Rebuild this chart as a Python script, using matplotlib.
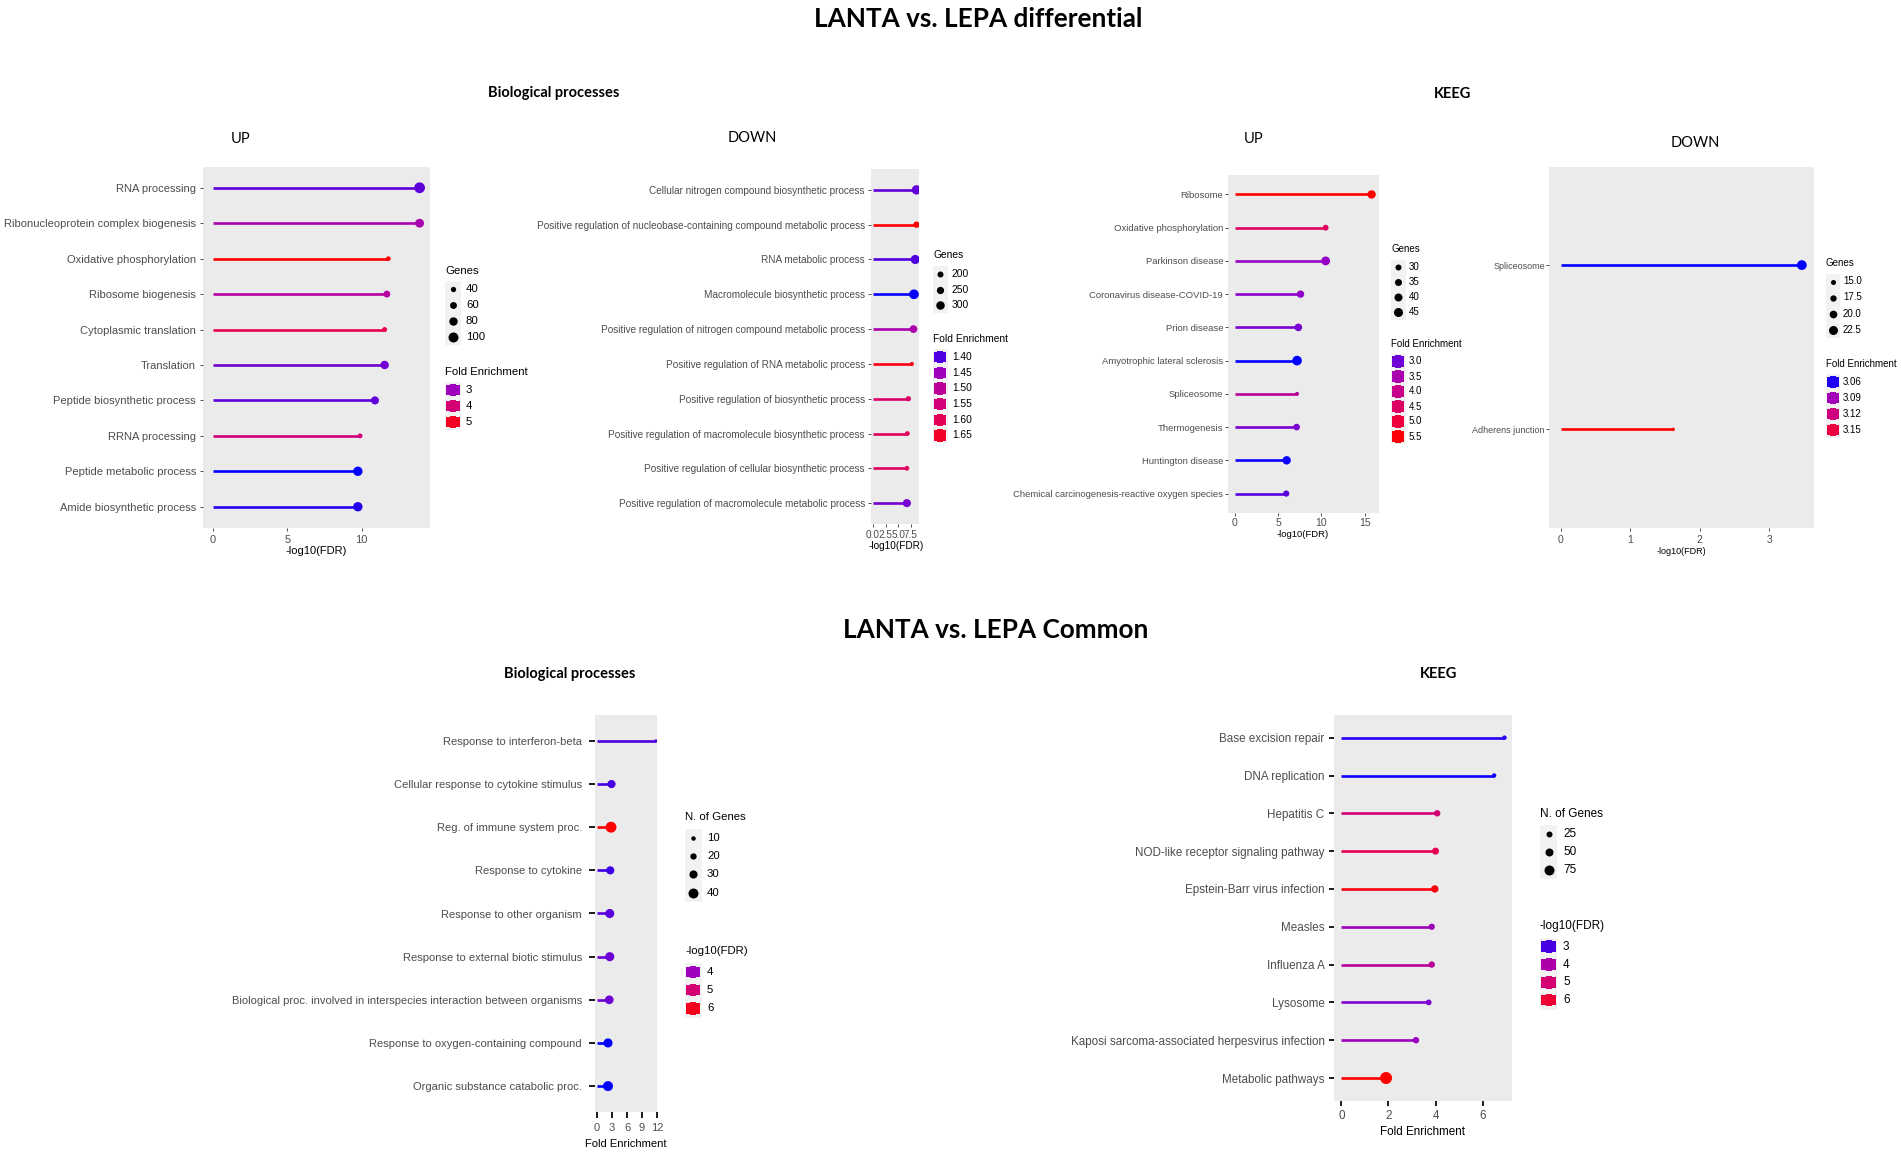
import matplotlib
matplotlib.use("Agg")
import matplotlib.pyplot as plt
import numpy as np
from matplotlib.colors import LinearSegmentedColormap, Normalize
from matplotlib.patches import Rectangle

W, H = 1901, 1156

# BP differential UP
bp_up_terms = ["RNA processing", "Ribonucleoprotein complex biogenesis", "Oxidative phosphorylation",
               "Ribosome biogenesis", "Cytoplasmic translation", "Translation", "Peptide biosynthetic process",
               "RRNA processing", "Peptide metabolic process", "Amide biosynthetic process"]
bp_up_fdr = [13.9, 13.9, 11.8, 11.7, 11.55, 11.55, 10.9, 9.9, 9.75, 9.75]
bp_up_fold = [2.6, 3.2, 5.35, 3.4, 4.6, 2.7, 2.6, 3.9, 2.1, 2.3]
bp_up_genes = [110, 85, 32, 60, 36, 80, 75, 34, 92, 92]
bp_up_size_leg = [40, 60, 80, 100]
bp_up_col_leg = [3, 4, 5]

# BP differential DOWN
bp_down_terms = ["Cellular nitrogen compound biosynthetic process",
                 "Positive regulation of nucleobase-containing compound metabolic process",
                 "RNA metabolic process", "Macromolecule biosynthetic process",
                 "Positive regulation of nitrogen compound metabolic process",
                 "Positive regulation of RNA metabolic process", "Positive regulation of biosynthetic process",
                 "Positive regulation of macromolecule biosynthetic process",
                 "Positive regulation of cellular biosynthetic process",
                 "Positive regulation of macromolecule metabolic process"]
bp_down_fdr = [8.6, 8.6, 8.35, 8.1, 8.0, 7.7, 7.0, 6.8, 6.7, 6.7]
bp_down_fold = [1.41, 1.69, 1.40, 1.36, 1.47, 1.67, 1.575, 1.59, 1.585, 1.42]
bp_down_genes = [335, 215, 325, 350, 270, 120, 170, 150, 150, 285]
bp_down_size_leg = [200, 250, 300]
bp_down_col_leg = ["1.40", "1.45", "1.50", "1.55", "1.60", "1.65"]

# KEGG differential UP
kegg_up_terms = ["Ribosome", "Oxidative phosphorylation", "Parkinson disease", "Coronavirus disease-COVID-19",
                 "Prion disease", "Amyotrophic lateral sclerosis", "Spliceosome", "Thermogenesis",
                 "Huntington disease", "Chemical carcinogenesis-reactive oxygen species"]
kegg_up_fdr = [15.8, 10.5, 10.5, 7.6, 7.35, 7.2, 7.2, 7.15, 6.0, 5.95]
kegg_up_fold = [5.6, 4.58, 3.2, 3.15, 3.06, 2.43, 3.76, 3.06, 2.5, 2.9]
kegg_up_genes = [42, 29, 44, 37, 38, 48, 20, 33, 42, 31]
kegg_up_size_leg = [30, 35, 40, 45]
kegg_up_col_leg = ["3.0", "3.5", "4.0", "4.5", "5.0", "5.5"]

# KEGG differential DOWN
kegg_down_terms = ["Spliceosome", "Adherens junction"]
kegg_down_fdr = [3.47, 1.62]
kegg_down_fold = [3.054, 3.174]
kegg_down_genes = [24, 12]
kegg_down_size_leg = ["15.0", "17.5", "20.0", "22.5"]
kegg_down_col_leg = ["3.06", "3.09", "3.12", "3.15"]

# BP common
common_bp_terms = ["Response to interferon-beta", "Cellular response to cytokine stimulus",
                   "Reg. of immune system proc.", "Response to cytokine", "Response to other organism",
                   "Response to external biotic stimulus",
                   "Biological proc. involved in interspecies interaction between organisms",
                   "Response to oxygen-containing compound", "Organic substance catabolic proc."]
common_bp_fold = [11.8, 2.9, 2.8, 2.65, 2.55, 2.55, 2.45, 2.2, 2.2]
common_bp_fdr = [3.55, 3.5, 6.3, 3.46, 3.6, 3.7, 3.7, 3.15, 3.14]
common_bp_genes = [3, 30, 45, 30, 35, 35, 33, 35, 40]
common_bp_size_leg = [10, 20, 30, 40]
common_bp_col_leg = [4, 5, 6]

# KEGG common
common_kegg_terms = ["Base excision repair", "DNA replication", "Hepatitis C", "NOD-like receptor signaling pathway",
                     "Epstein-Barr virus infection", "Measles", "Influenza A", "Lysosome",
                     "Kaposi sarcoma-associated herpesvirus infection", "Metabolic pathways"]
common_kegg_fold = [6.93, 6.49, 4.07, 4.0, 3.97, 3.84, 3.84, 3.71, 3.17, 1.9]
common_kegg_fdr = [2.75, 2.6, 4.95, 5.55, 6.5, 3.67, 4.26, 3.38, 3.6, 6.7]
common_kegg_genes = [5, 5, 30, 38, 42, 28, 30, 22, 30, 100]
common_kegg_size_leg = [25, 50, 75]
common_kegg_col_leg = [3, 4, 5, 6]

# ggplot blue-red gradient goes through Lab, these are the stops
cmap = LinearSegmentedColormap.from_list("bluered", [(0, (0, 0, 1)), (.25, (154/255, 0, 195/255)),
                                                     (.5, (201/255, 0, 136/255)), (.75, (232/255, 0, 80/255)),
                                                     (1, (1, 0, 0))])

plt.rcParams["font.family"] = ["Liberation Sans", "DejaVu Sans"]
fig = plt.figure(figsize=(W/100, H/100), dpi=100)
over = fig.add_axes([0, 0, 1, 1], zorder=5)
over.set_xlim(0, W)
over.set_ylim(H, 0)
over.axis("off")


def px(d):
    return d*0.72


def dot_size(v, sr):
    d = sr[2] + (float(v) - sr[0])*(sr[3] - sr[2])/(sr[1] - sr[0])
    return px(d)**2


def legend(x, lab_x, y_t1, rows1, y_t2, rows2, title1, title2, sizes, cols, sr, norm, fs, kw):
    over.text(x, y_t1, title1, fontsize=fs, va="center", color="black")
    step = rows1[1] - rows1[0]
    over.add_patch(Rectangle((x, rows1[0]-step/2), kw, step*len(rows1), fc="#F2F2F2", ec="none"))
    for y, v in zip(rows1, sizes):
        over.scatter([x+kw/2], [y], s=dot_size(v, sr), c="black", linewidths=0)
        over.text(lab_x, y, str(v), fontsize=fs, va="center", color="black")
    over.text(x, y_t2, title2, fontsize=fs, va="center", color="black")
    step = rows2[1] - rows2[0]
    over.add_patch(Rectangle((x, rows2[0]-step/2), kw, step*len(rows2), fc="#F2F2F2", ec="none"))
    for y, v in zip(rows2, cols):
        c = cmap(norm(float(v)))
        over.add_patch(Rectangle((x+1, y-5.2), kw-2.5, 10.4, fc=c, ec="none"))
        over.add_patch(Rectangle((x+kw/2-3, y-6.2), 6, 12.4, fc=c, ec="none"))
        over.text(lab_x, y, str(v), fontsize=fs, va="center", color="black")


def panel(rect, terms, xv, cv, gv, clim, sr, x_ticks, x_lab, xlab_pos, fs, tick_w, tick_c, tick_l, pad, tick_fmt=None):
    l, t, r, b = rect
    ax = fig.add_axes([l/W, 1-b/H, (r-l)/W, (b-t)/H])
    ax.set_facecolor("#EBEBEB")
    for s in ax.spines.values():
        s.set_visible(False)
    norm = Normalize(*clim)
    n = len(terms)
    ys = np.arange(n, 0, -1)
    cols = cmap(norm(np.array(cv)))
    ax.hlines(ys, 0, xv, colors=cols, linewidth=1.9)
    ax.scatter(xv, ys, s=[dot_size(v, sr) for v in gv], c=cols, linewidths=0, zorder=3)
    ax.set_ylim(0.4, n+0.6)
    ax.set_yticks(ys)
    ax.set_yticklabels(terms, fontsize=fs, color="#4D4D4D")
    ax.set_xticks(x_ticks)
    if tick_fmt:
        ax.set_xticklabels(tick_fmt)
    ax.tick_params(axis="both", width=tick_w, color=tick_c, length=tick_l, pad=pad)
    ax.tick_params(axis="x", labelsize=fs, labelcolor="#4D4D4D")
    over.text(xlab_pos[0], xlab_pos[1], x_lab, fontsize=fs, ha="center", va="center", color="black")
    return ax, norm


# (left, top, right, bottom) in pixels
sr1 = (40, 100, 5.3, 10)
ax1, n1 = panel((203, 166.5, 430, 528), bp_up_terms, bp_up_fdr, bp_up_fold, bp_up_genes, (2.1, 5.35), sr1,
                [0, 5, 10], "-log10(FDR)", (316, 551), 8.0, 0.6, "#333333", 2.5, 2.6)
ax1.set_xlim(-0.66, 14.6)
legend(445, 466, 271, [289.3, 305.3, 321.3, 337.3], 372, [390, 406, 422], "Genes", "Fold Enrichment",
       bp_up_size_leg, bp_up_col_leg, sr1, n1, 8.2, 16)

sr2 = (200, 300, 6, 8.5)
ax2, n2 = panel((871, 169, 919, 524), bp_down_terms, bp_down_fdr, bp_down_fold, bp_down_genes, (1.356, 1.694), sr2,
                [0, 2.5, 5, 7.5], "-log10(FDR)", (896, 546), 7.2, 0.6, "#333333", 2.5, 2, ["0.0", "2.5", "5.0", "7.5"])
ax2.set_xlim(-0.4, 9.1)
legend(933, 952, 255, [274, 289.7, 305.4], 338.5, [357, 372.7, 388.4, 404.1, 419.8, 435.5], "Genes", "Fold Enrichment",
       bp_down_size_leg, bp_down_col_leg, sr2, n2, 7.4, 14.5)

sr3 = (30, 45, 6, 9)
ax3, n3 = panel((1228, 174.5, 1378.5, 513.5), kegg_up_terms, kegg_up_fdr, kegg_up_fold, kegg_up_genes, (2.43, 5.6), sr3,
                [0, 5, 10, 15], "-log10(FDR)", (1303, 534.6), 6.8, 0.6, "#333333", 2, 1.5)
ax3.set_xlim(-0.77, 16.6)
ax3.tick_params(axis="x", labelsize=7.5)
legend(1391, 1409, 249, [267, 282, 297, 312], 344, [361.5, 376.5, 391.5, 406.5, 421.5, 436.5], "Genes", "Fold Enrichment",
       kegg_up_size_leg, kegg_up_col_leg, sr3, n3, 7.0, 14.5)

sr4 = (15, 22.5, 5, 9)
ax4, n4 = panel((1549, 166.5, 1814, 528), kegg_down_terms, kegg_down_fdr, kegg_down_fold, kegg_down_genes, (3.054, 3.174), sr4,
                [0, 1, 2, 3], "-log10(FDR)", (1681, 551), 6.5, 0.6, "#333333", 2, 1)
ax4.set_xlim(-0.166, 3.645)
ax4.tick_params(axis="x", labelsize=7.5, pad=3)
legend(1826, 1843, 263, [281.5, 297.5, 313.6, 329.6], 364, [382, 398, 414.2, 430], "Genes", "Fold Enrichment",
       kegg_down_size_leg, kegg_down_col_leg, sr4, n4, 7.0, 14)

sr5 = (10, 40, 4.5, 10)
ax5, n5 = panel((595, 715, 657, 1112), common_bp_terms, common_bp_fold, common_bp_fdr, common_bp_genes, (3.14, 6.3), sr5,
                [0, 3, 6, 9, 12], "Fold Enrichment", (626, 1144), 8.0, 1.4, "#1A1A1A", 4, 4)
ax5.set_xlim(-0.4, 12.0)
ax5.tick_params(axis="y", pad=5.5)
legend(685, 707, 816.6, [838, 856.2, 874.4, 892.6], 950.7, [972, 990.2, 1008.4], "N. of Genes", "-log10(FDR)",
       common_bp_size_leg, common_bp_col_leg, sr5, n5, 8.2, 16.5)

sr6 = (25, 75, 6, 10)
ax6, n6 = panel((1333.6, 715, 1512, 1100.7), common_kegg_terms, common_kegg_fold, common_kegg_fdr, common_kegg_genes, (2.5, 6.7), sr6,
                [0, 2, 4, 6], "Fold Enrichment", (1422, 1132), 8.4, 1.4, "#1A1A1A", 3.5, 3)
ax6.set_xlim(-0.33, 7.25)
legend(1540, 1563, 813.7, [834, 852, 870], 926.4, [946.6, 964.6, 982.4, 1000.3], "N. of Genes", "-log10(FDR)",
       common_kegg_size_leg, common_kegg_col_leg, sr6, n6, 8.5, 17)

# headings
over.text(978, 19, "LANTA vs. LEPA differential", fontsize=18.8, family="Lato", weight="bold", ha="center", va="center")
over.text(995.5, 630, "LANTA vs. LEPA Common", fontsize=18.8, family="Lato", weight="bold", ha="center", va="center")
for x, y, s in [(554, 92.5, "Biological processes"), (1453, 93.5, "KEEG"),
                (569.7, 674, "Biological processes"), (1439, 674.5, "KEEG")]:
    over.text(x, y, s, fontsize=10.5, family="Lato", weight="bold", ha="center", va="center")
for x, y, s in [(240.6, 139, "UP"), (752, 137.6, "DOWN"), (1253.6, 139, "UP"), (1695, 142.6, "DOWN")]:
    over.text(x, y, s, fontsize=10.5, family="Lato", ha="center", va="center")

fig.savefig("out.png", dpi=100)
